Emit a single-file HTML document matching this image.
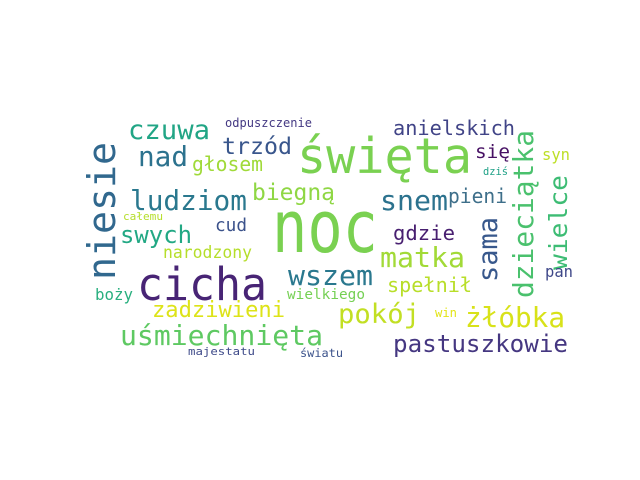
<!DOCTYPE html>
<html><head><meta charset="utf-8"><style>
html,body{margin:0;padding:0;background:#fff;}
svg{display:block;}
text{font-family:"DejaVu Sans Mono","Liberation Mono",monospace;}
</style></head><body>
<svg id="cloud" width="640" height="480" viewBox="0 0 640 480"></svg>
<script>
const words = ["noc","święta","cicha","niesie","czuwa","odpuszczenie","trzód","nad","głosem","ludziom","biegną","całemu","cud","swych","narodzony","wszem","boży","wielkiego","zadziwieni","uśmiechnięta","majestatu","światu","anielskich","się","syn","dziś","dzieciątka","snem","pieni","wielce","sama","gdzie","matka","pan","spełnił","pokój","win","żłóbka","pastuszkowie"];
const sizes = [72,49,45,38,27,12,23,28,20,28,23,11,18,24,16.5,28,16,14.5,22,28,11,11.5,20,19,16,10.5,28,28,20,25,27,20.6,28,16,20,27,12,28,24];
const xs = [272,297,137,115,128,225,222,138,192,130,252,123,215,120,163,288,95,287,152,120,188,300,393,475,542,483,533,380,448,567,497,393,380,545,387,338,435,465,393];
const ys = [252,173,300,280,139,127,154,166,171,210,200,220,231,243,258,285,300,299,317,345,355,357,135,158,160,175,298,210,203,270,282,240,267,277,292,323,317,327,352];
const lens = [106,175,130,138,82,87,70,50,71,117,83,40,32,72,89,85,38,78,133,203,67,43,122,35,28,25,168,68,59,95,65,62,85,28,85,82,22,100,175];
const vert = [0,0,0,1,0,0,0,0,0,0,0,0,0,0,0,0,0,0,0,0,0,0,0,0,0,0,1,0,0,1,1,0,0,0,0,0,0,0,0];
const colors = ["#7ad151","#7ad151","#482475","#31688e","#21a585","#443983","#39568c","#2c728e","#a0da39","#2a788e","#8fd744","#b5de2b","#3b528b","#22a884","#b5de2b","#2a788e","#29af7f","#75d054","#dde318","#5ec962","#3e4a89","#3b528b","#414487","#471164","#bddf26","#1fa187","#4ac16d","#2c728e","#3e6f8a","#3dbc74","#38588c","#481f70","#a2da37","#3f4889","#b8de29","#c2df23","#e2e418","#d8e219","#453781"];
const svg = document.getElementById('cloud');
const NS = "http://www.w3.org/2000/svg";
for (let i = 0; i < words.length; i++) {
  const t = document.createElementNS(NS, 'text');
  
  
  t.setAttribute('font-size', sizes[i]);
  t.setAttribute('fill', colors[i]);
  t.setAttribute('textLength', lens[i]);
  t.setAttribute('lengthAdjust', 'spacingAndGlyphs');
  if (vert[i]) {
    t.setAttribute('x', 0);
    t.setAttribute('y', 0);
    t.setAttribute('transform', 'translate(' + xs[i] + ',' + ys[i] + ') rotate(-90)');
  } else {
    t.setAttribute('x', xs[i]);
    t.setAttribute('y', ys[i]);
  }
  t.textContent = words[i];
  svg.appendChild(t);
}
</script>
</body></html>
